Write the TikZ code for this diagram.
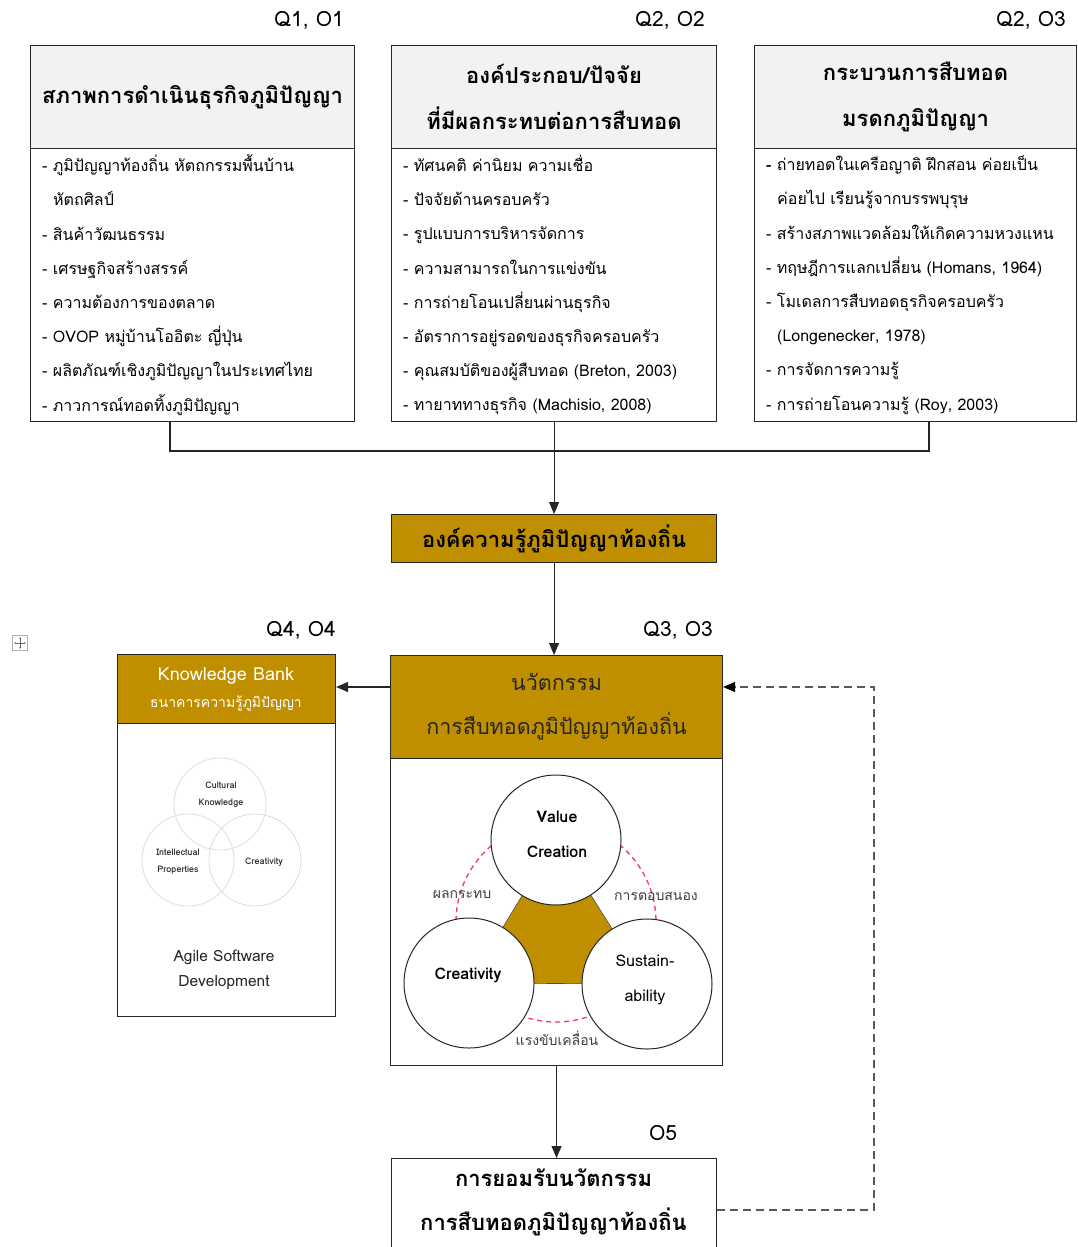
\documentclass[tikz,border=0pt]{standalone}
\usepackage{fontspec}
\setmainfont[Script=Thai]{Loma}
\usetikzlibrary{arrows.meta,calc}
\definecolor{gold}{HTML}{BF8F00}
\definecolor{headgray}{HTML}{F2F2F2}
\definecolor{linegray}{HTML}{262626}
\definecolor{dashgray}{HTML}{595959}
\definecolor{pinkline}{HTML}{F0347F}
\definecolor{labelgray}{HTML}{404040}

\begin{document}
\begin{tikzpicture}[x=1pt,y=-1pt,
  frame/.style={draw=linegray, line width=1.1pt, inner sep=0pt, anchor=north west},
  headbox/.style={frame, fill=headgray, align=center,
    font=\fontsize{22}{46}\selectfont\bfseries},
  bodybox/.style={frame, fill=white},
  goldbox/.style={frame, fill=gold, align=center},
  listtext/.style={anchor=west, align=left, inner sep=0pt,
    font=\fontsize{16}{34.2}\selectfont},
  qlabel/.style={font=\fontsize{21}{24}\selectfont, inner sep=0pt},
  link/.style={draw=linegray, line width=1.1pt},
  arrow/.style={link, -{Triangle[length=12pt,width=10pt]}},
  dasharrow/.style={draw=dashgray, line width=1.3pt, dash pattern=on 8pt off 5pt,
    -{Triangle[length=12pt,width=10pt,color=black]}},
  venn/.style={circle, draw=black!15, line width=0.7pt, minimum size=92pt, inner sep=0pt},
  venntext/.style={align=center, inner sep=0pt, text=black!80,
    font=\fontsize{9}{17}\selectfont\bfseries},
  bigcircle/.style={circle, draw=linegray, line width=1pt, fill=white,
    minimum size=130pt, inner sep=0pt},
  circletext/.style={align=center, inner sep=0pt, font=\fontsize{16}{35}\selectfont},
  arclabel/.style={inner sep=0pt, text=labelgray, font=\fontsize{14}{16}\selectfont}
]
\useasboundingbox (0,0) rectangle (1077,1247);
\clip (0,0) rectangle (1077,1247);

% ---------- top row: three input boxes ----------
\node[qlabel] (q1) at (309,20) {Q1, O1};
\node[qlabel] (q2) at (670,20) {Q2, O2};
\node[qlabel] (q3) at (1031,20) {Q2, O3};

\node[headbox, minimum width=324pt, minimum height=103pt] (h1) at (30,45)
  {สภาพการดำเนินธุรกิจภูมิปัญญา};
\node[bodybox, minimum width=324pt, minimum height=273pt] (b1) at (30,148) {};
\node[listtext] (l1) at ($(b1.west)+(12,0)$) {%
- ภูมิปัญญาท้องถิ่น หัตถกรรมพื้นบ้าน\\
\hspace*{11pt}หัตถศิลป์\\
- สินค้าวัฒนธรรม\\
- เศรษฐกิจสร้างสรรค์\\
- ความต้องการของตลาด\\
- OVOP หมู่บ้านโออิตะ ญี่ปุ่น\\
- ผลิตภัณฑ์เชิงภูมิปัญญาในประเทศไทย\\
- ภาวการณ์ทอดทิ้งภูมิปัญญา};

\node[headbox, minimum width=325pt, minimum height=103pt] (h2) at (391,45)
  {องค์ประกอบ/ปัจจัย\\ที่มีผลกระทบต่อการสืบทอด};
\node[bodybox, minimum width=325pt, minimum height=273pt] (b2) at (391,148) {};
\node[listtext] (l2) at ($(b2.west)+(12,0)$) {%
- ทัศนคติ ค่านิยม ความเชื่อ\\
- ปัจจัยด้านครอบครัว\\
- รูปแบบการบริหารจัดการ\\
- ความสามารถในการแข่งขัน\\
- การถ่ายโอนเปลี่ยนผ่านธุรกิจ\\
- อัตราการอยู่รอดของธุรกิจครอบครัว\\
- คุณสมบัติของผู้สืบทอด (Breton, 2003)\\
- ทายาททางธุรกิจ (Machisio, 2008)};

\node[headbox, minimum width=322pt, minimum height=103pt] (h3) at (754,45)
  {กระบวนการสืบทอด\\มรดกภูมิปัญญา};
\node[bodybox, minimum width=322pt, minimum height=273pt] (b3) at (754,148) {};
\node[listtext] (l3) at ($(b3.west)+(12,0)$) {%
\textbf{-} ถ่ายทอดในเครือญาติ ฝึกสอน ค่อยเป็น\\
\hspace*{11pt}ค่อยไป เรียนรู้จากบรรพบุรุษ\\
- สร้างสภาพแวดล้อมให้เกิดความหวงแหน\\
- ทฤษฎีการแลกเปลี่ยน (Homans, 1964)\\
- โมเดลการสืบทอดธุรกิจครอบครัว\\
\hspace*{11pt}(Longenecker, 1978)\\
- การจัดการความรู้\\
- การถ่ายโอนความรู้ (Roy, 2003)};

% ---------- merge into the knowledge box ----------
\coordinate (j1) at (170,451);
\coordinate (j3) at (929,451);
\node[goldbox, minimum width=325pt, minimum height=48pt,
  font=\fontsize{22}{24}\selectfont\bfseries] (kn) at (391,514)
  {องค์ความรู้ภูมิปัญญาท้องถิ่น};
\draw[link] (b1.south -| j1) -- (j1) -- (j3) -- (b3.south -| j3);
\draw[arrow] (b2.south -| kn.north) -- (kn.north);

% ---------- innovation box ----------
\node[qlabel] (q4) at (301,630) {Q4, O4};
\node[qlabel] (q5) at (678,630) {Q3, O3};
\node[goldbox, minimum width=332pt, minimum height=103pt,
  font=\fontsize{21.5}{44}\selectfont, text=black!85] (inh) at (390,655)
  {นวัตกรรม\\การสืบทอดภูมิปัญญาท้องถิ่น};
\node[bodybox, minimum width=332pt, minimum height=307pt] (inb) at (390,758) {};
\draw[arrow] (kn.south) -- (kn.south |- inh.north);

% three pillars of the innovation model
\coordinate (pv) at (556,840);
\coordinate (pc) at (469,983);
\coordinate (ps) at (647,984);
\filldraw[fill=gold, draw=black!70, line width=0.6pt] (pv) -- (pc) -- (ps) -- cycle;
\draw[pinkline, line width=1.3pt, dash pattern=on 5pt off 4pt] (556,922) circle[radius=100];
\node[bigcircle] (cv) at (pv) {};
\node[bigcircle] (cc) at (pc) {};
\node[bigcircle] (cs) at (ps) {};
\node[circletext, font=\fontsize{16}{35}\selectfont\bfseries] (tv) at ($(cv.center)+(1,-6)$) {Value\\Creation};
\node[circletext, font=\fontsize{16}{35}\selectfont\bfseries] (tc) at ($(cc.center)+(-1,-8)$) {Creativity};
\node[circletext] (ts) at ($(cs.center)+(-2,-4)$) {Sustain-\\ability};
\node[arclabel] (a1) at (462,895) {ผลกระทบ};
\node[arclabel] (a2) at (656,896) {การตอบสนอง};
\node[arclabel] (a3) at (557,1038) {แรงขับเคลื่อน};

% ---------- knowledge bank ----------
\node[goldbox, minimum width=218pt, minimum height=69pt] (kbh) at (117,654) {};
\node[inner sep=0pt, text=white, font=\fontsize{18}{20}\selectfont] (kbt1) at (226,676) {Knowledge Bank};
\node[inner sep=0pt, text=white, font=\fontsize{14}{16}\selectfont] (kbt2) at (226,703) {ธนาคารความรู้ภูมิปัญญา};
\node[bodybox, minimum width=218pt, minimum height=293pt] (kbb) at (117,723) {};
\node[venn] (v1) at (220,804) {};
\node[venn] (v2) at (188,860) {};
\node[venn] (v3) at (255,860) {};
\node[venntext] (vt1) at (221,795) {Cultural\\Knowledge};
\node[venntext] (vt2) at (178,862) {Intellectual\\Properties};
\node[venntext] (vt3) at (264,862) {Creativity};
\node[align=center, inner sep=0pt, text=black!85, font=\fontsize{15.5}{25}\selectfont] (ag)
  at (224,970) {Agile Software\\Development};

\coordinate (ya) at (0,687);
\draw[arrow] (inh.west |- ya) -- (kbh.east |- ya);

% ---------- acceptance box and feedback ----------
\node[qlabel] (q6) at (663,1133) {O5};
\node[frame, fill=white, minimum width=325pt, minimum height=110pt] (bb) at (391,1158) {};
\node[align=center, inner sep=0pt, font=\fontsize{22}{44}\selectfont\bfseries] (bbt)
  at (553.5,1202) {การยอมรับนวัตกรรม\\การสืบทอดภูมิปัญญาท้องถิ่น};
\draw[arrow] (inb.south) -- (inb.south |- bb.north);

\coordinate (yb) at (0,1210);
\coordinate (xr) at (874,0);
\draw[dasharrow] (bb.east |- yb) -- (xr |- yb) -- (xr |- ya) -- (inh.east |- ya);

% ---------- table move handle ----------
\node[draw=black!30, fill=white, minimum size=15pt, inner sep=0pt, anchor=center] (mv) at (20,643) {};
\draw[black!60, line width=0.6pt, {Stealth[length=2pt]}-{Stealth[length=2pt]}]
  ($(mv.center)+(-6,0)$) -- ($(mv.center)+(6,0)$);
\draw[black!60, line width=0.6pt, {Stealth[length=2pt]}-{Stealth[length=2pt]}]
  ($(mv.center)+(0,-6)$) -- ($(mv.center)+(0,6)$);
\end{tikzpicture}
\end{document}
